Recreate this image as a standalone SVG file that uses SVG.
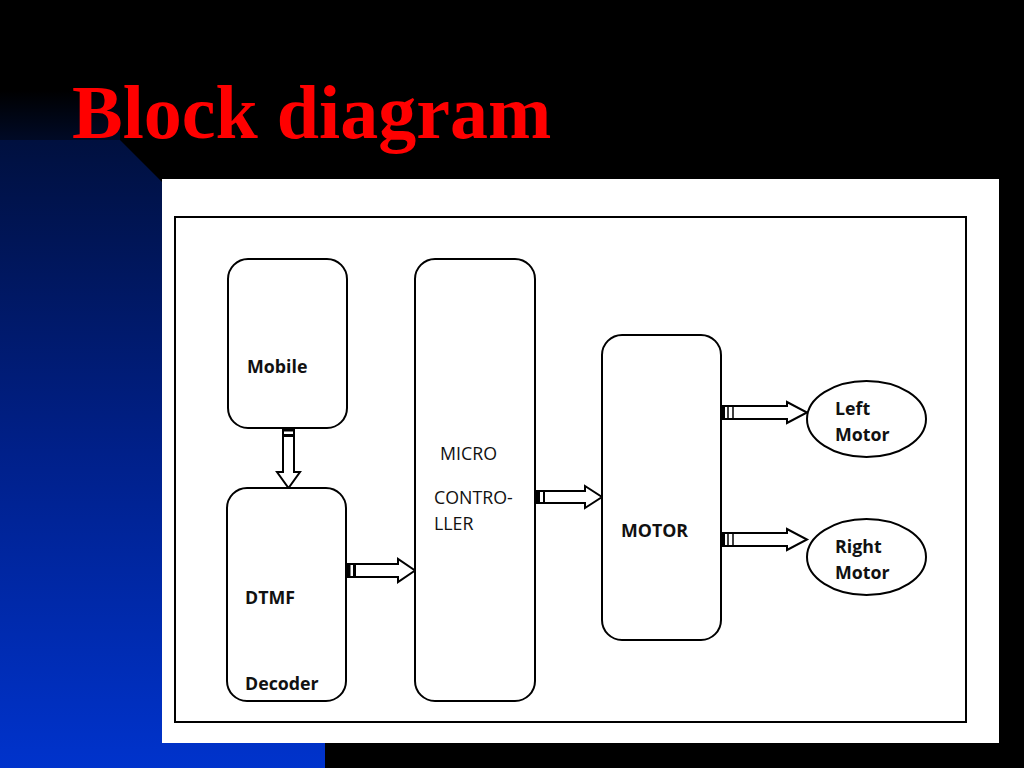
<svg xmlns="http://www.w3.org/2000/svg" width="1024" height="768" viewBox="0 0 1024 768">
<defs>
<linearGradient id="blueGrad" x1="0" y1="140" x2="0" y2="768" gradientUnits="userSpaceOnUse">
<stop offset="0" stop-color="#00103f"/>
<stop offset="0.5" stop-color="#00208a"/>
<stop offset="1" stop-color="#0033cc"/>
</linearGradient>
<linearGradient id="topGrad" x1="0" y1="90" x2="0" y2="140" gradientUnits="userSpaceOnUse">
<stop offset="0" stop-color="#000000"/>
<stop offset="1" stop-color="#000a26"/>
</linearGradient>
<style>
.box{fill:#ffffff;stroke:#000000;stroke-width:2}
.arrow{fill:#ffffff;stroke:#000000;stroke-width:2;stroke-linejoin:miter}
.lbl{font-family:"Open Sans","Liberation Sans",sans-serif;font-size:17.8px;font-weight:700;fill:#111111}
.lblr{font-family:"Open Sans","Liberation Sans",sans-serif;font-size:17.8px;font-weight:400;fill:#111111}
.title{font-family:"Liberation Serif","Times New Roman",serif;font-size:76px;font-weight:700;fill:#ff0000}
</style>
</defs>
<rect x="0" y="0" width="1024" height="768" fill="#000000"/>
<rect x="0" y="90" width="120" height="50" fill="url(#topGrad)"/>
<polygon points="0,140 120,140 325,345 325,768 0,768" fill="url(#blueGrad)"/>
<text class="title" x="72" y="138">Block diagram</text>
<rect x="162" y="179" width="837" height="564" fill="#ffffff"/>
<rect x="175" y="217" width="791" height="505" fill="none" stroke="#000000" stroke-width="2"/>

<g id="connectors">
<g id="a-mobile-dtmf">
<polygon class="arrow" points="283,428 294,428 294,472 300,472 288.5,488 277,472 283,472"/>
<rect x="283" y="428" width="11" height="3.5" fill="#000"/>
<rect x="283" y="434" width="11" height="3" fill="#000"/>
</g>
<g id="a-dtmf-micro">
<polygon class="arrow" points="347,564 398,564 398,559 415,570.5 398,582 398,577 347,577"/>
<rect x="347" y="564" width="3.5" height="13" fill="#000"/>
<rect x="353" y="564" width="3" height="13" fill="#000"/>
</g>
<g id="a-micro-motor">
<polygon class="arrow" points="536,491 585,491 585,486 602,497 585,508 585,503 536,503"/>
<rect x="536" y="491" width="4" height="12" fill="#000"/>
<rect x="543" y="491" width="2" height="12" fill="#000"/>
</g>
<g id="a-motor-left">
<polygon class="arrow" points="722,406 787,406 787,402 807,412.5 787,423 787,419 722,419"/>
<rect x="722" y="406" width="3" height="13" fill="#000"/>
<line x1="728" y1="406" x2="728" y2="419" stroke="#000" stroke-width="1.5"/>
<line x1="733" y1="406" x2="733" y2="419" stroke="#000" stroke-width="1.5"/>
</g>
<g id="a-motor-right">
<polygon class="arrow" points="722,533 787,533 787,529 807,539.5 787,550 787,546 722,546"/>
<rect x="722" y="533" width="3" height="13" fill="#000"/>
<line x1="728" y1="533" x2="728" y2="546" stroke="#000" stroke-width="1.5"/>
<line x1="733" y1="533" x2="733" y2="546" stroke="#000" stroke-width="1.5"/>
</g>
</g>

<g id="mobile">
<rect class="box" x="228" y="259" width="119" height="169" rx="20" ry="20"/>
<text class="lbl" x="247" y="373">Mobile</text>
</g>
<g id="dtmf">
<rect class="box" x="227" y="488" width="119" height="213" rx="20" ry="20"/>
<text class="lbl" x="245" y="604">DTMF</text>
<text class="lbl" x="245" y="690">Decoder</text>
</g>
<g id="micro">
<rect class="box" x="415" y="259" width="120" height="442" rx="20" ry="20"/>
<text class="lblr" x="440" y="460">MICRO</text>
<text class="lblr" x="434" y="504">CONTRO-</text>
<text class="lblr" x="434" y="530">LLER</text>
</g>
<g id="motor">
<rect class="box" x="602" y="335" width="119" height="305" rx="20" ry="20"/>
<text class="lbl" x="621" y="537">MOTOR</text>
</g>
<g id="left-motor">
<ellipse class="box" cx="866.5" cy="419" rx="59.5" ry="38"/>
<text class="lbl" x="835" y="415">Left</text>
<text class="lbl" x="835" y="441">Motor</text>
</g>
<g id="right-motor">
<ellipse class="box" cx="866.5" cy="557" rx="59.5" ry="38"/>
<text class="lbl" x="835" y="553">Right</text>
<text class="lbl" x="835" y="579">Motor</text>
</g>
</svg>
